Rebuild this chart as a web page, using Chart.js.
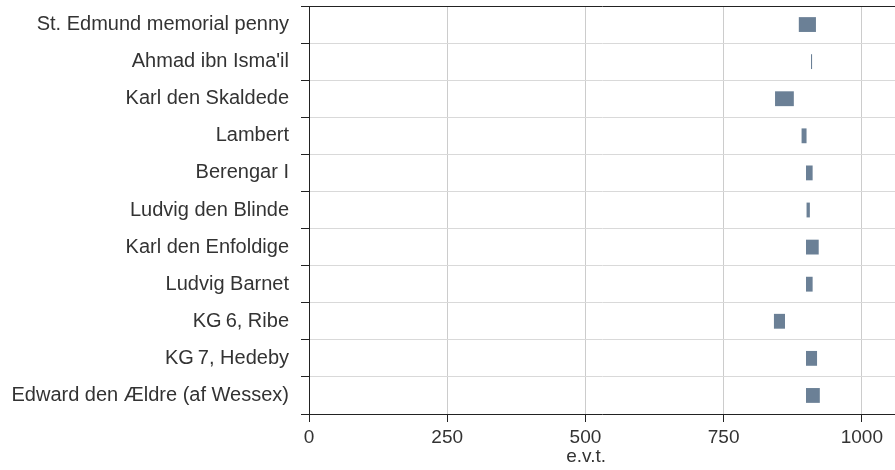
<!DOCTYPE html>
<html><head><meta charset="utf-8">
<style>html,body{margin:0;padding:0;background:#fff;overflow:hidden}#wrap{width:895px;height:470px;position:relative}</style>
<script src="https://cdn.jsdelivr.net/npm/chart.js@4"></script>
</head><body><div id="wrap"><canvas id="c"></canvas></div>
<script>
const categories = ["St. Edmund memorial penny", "Ahmad ibn Isma'il", "Karl den Skaldede", "Lambert", "Berengar I", "Ludvig den Blinde", "Karl den Enfoldige", "Ludvig Barnet", "KG\u20096, Ribe", "KG\u20097, Hedeby", "Edward den Ældre (af Wessex)"];
const startYears = [886, 908, 843, 891, 899, 900, 899, 899, 841, 899, 899];
const endYears   = [917, 910, 877, 900, 911, 906, 922, 911, 861, 919, 924];
const xTickValues = [0, 250, 500, 750, 1000];
const xAxisTitle = 'e.v.t.';

const FONT = 'Liberation Sans, Arial, Helvetica, sans-serif';
const bars = categories.map((c, i) => [startYears[i], endYears[i]]);

new Chart(document.getElementById('c'), {
  type: 'bar',
  data: {
    labels: categories,
    datasets: [{
      data: bars,
      backgroundColor: '#6b8096',
      borderWidth: 0,
      barPercentage: 0.4,
      categoryPercentage: 1
    }]
  },
  options: {
    indexAxis: 'y',
    responsive: true,
    maintainAspectRatio: false,
    animation: false,
    layout: { padding: { top: 6, right: 0, left: 0, bottom: 0 } },
    plugins: { legend: { display: false }, tooltip: { enabled: false } },
    scales: {
      x: {
        type: 'linear',
        min: 0,
        max: 1060,
        afterBuildTicks: s => { s.ticks = xTickValues.map(v => ({ value: v })); },
        afterFit: s => { s.height = 56; s.paddingLeft = 0; s.paddingRight = 0; },
        ticks: { font: { family: FONT, size: 19 }, color: '#333', padding: 4, maxRotation: 0, callback: v => String(v) },
        grid: { color: '#cccccc', tickColor: '#222', tickLength: 8, lineWidth: 1 },
        border: { color: '#222', width: 1 },
        title: { display: true, text: xAxisTitle + '\u00a0\u00a0\u00a0\u00a0\u00a0\u00a0', font: { family: FONT, size: 19 }, color: '#333', padding: { top: 0, bottom: 2 } }
      },
      y: {
        type: 'category',
        offset: true,
        afterFit: s => { s.width = 309; s.paddingTop = 0; s.paddingBottom = 0; },
        grid: { offset: true, color: c => c.index === 0 ? '#222' : '#d9d9d9', tickColor: '#222', tickLength: 8, lineWidth: 1 },
        border: { color: '#222', width: 1 },
        ticks: { font: { family: FONT, size: 20 }, color: '#333', padding: 12, autoSkip: false }
      }
    }
  }
});
</script>
</body></html>
